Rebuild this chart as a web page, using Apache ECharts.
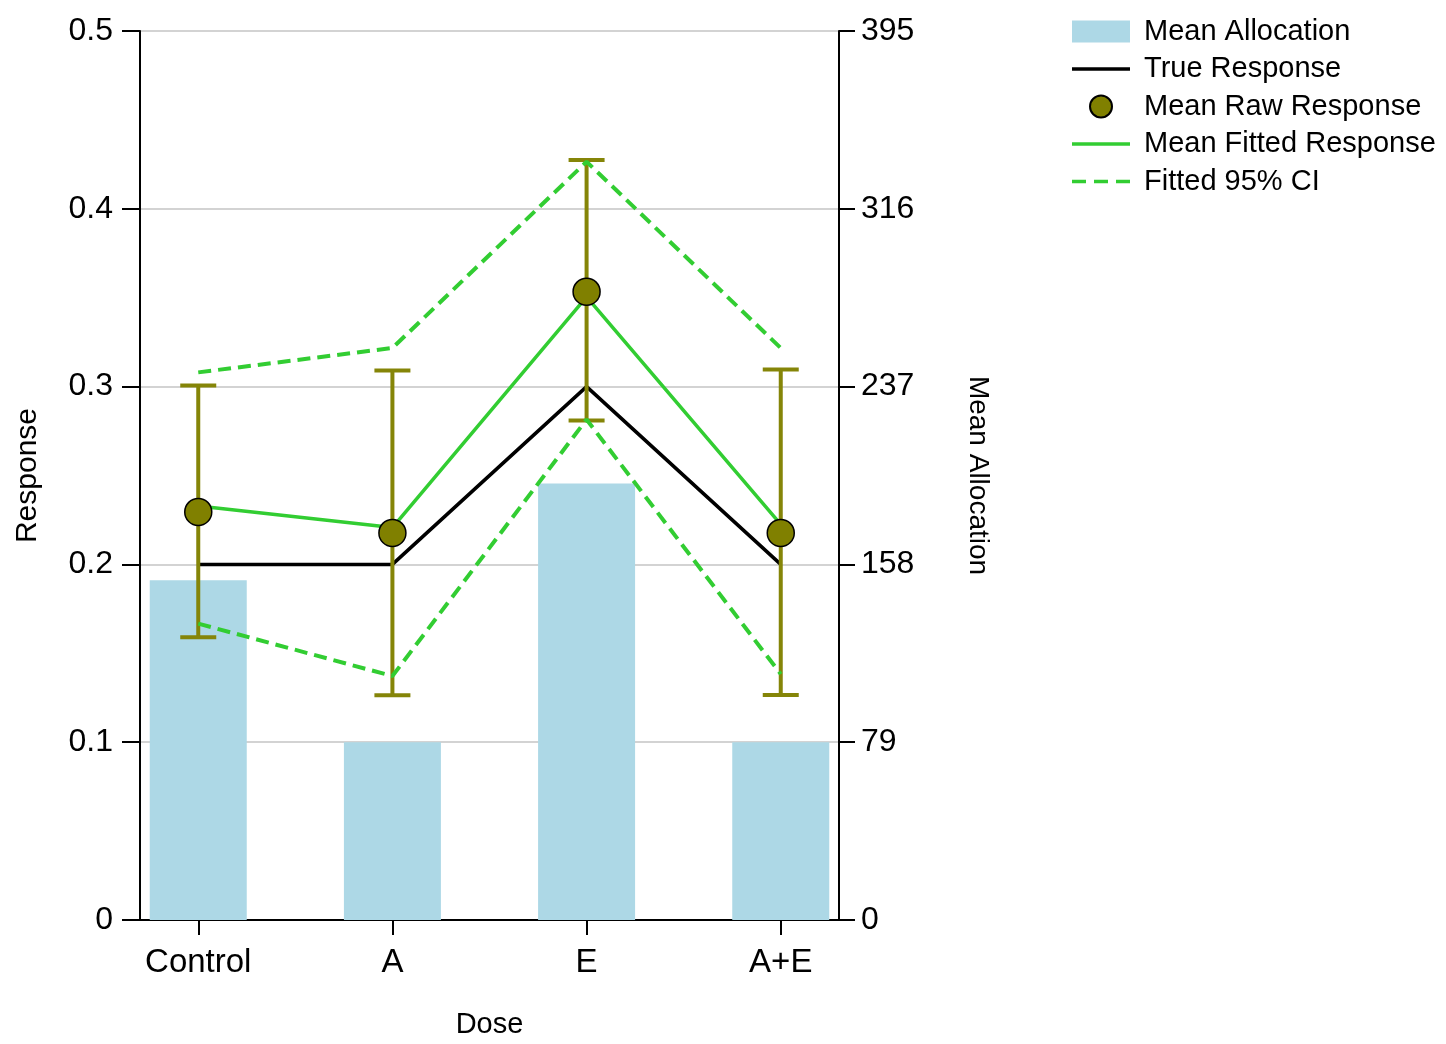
<!DOCTYPE html>
<html><head><meta charset="utf-8">
<script src="https://cdn.jsdelivr.net/npm/echarts@6/dist/echarts.min.js"></script>
<style>html,body{margin:0;padding:0;background:#fff}#c{width:1446px;height:1044px}</style>
</head><body><div id="c"></div>
<script>
const categories = ['Control', 'A', 'E', 'A+E'];
const meanAllocation = [151, 79, 194, 79];
const trueResponse = [0.2, 0.2, 0.3, 0.2];
const meanRawResponse = [0.2295, 0.2177, 0.3534, 0.2177];
const rawLow = [0.159, 0.1264, 0.281, 0.1266];
const rawHigh = [0.3006, 0.309, 0.4274, 0.3096];
const meanFitted = [0.2328, 0.2207, 0.3505, 0.2225];
const ciUpper = [0.308, 0.3217, 0.4265, 0.3217];
const ciLower = [0.1667, 0.1372, 0.2815, 0.1383];
const leftTicks = [0, 0.1, 0.2, 0.3, 0.4, 0.5];
const rightTicks = [0, 79, 158, 237, 316, 395];

const pos = categories.map((c, i) => i + 1);
const pair = arr => arr.map((v, i) => [pos[i], v]);
const FONT = "'Liberation Sans', Arial, sans-serif";
const SOLID_ICON = 'path://M0,0 L58,0 L58,3.5 L0,3.5 Z';
const DASH_ICON = 'path://M0,0 L14,0 L14,3.5 L0,3.5 Z M22,0 L36,0 L36,3.5 L22,3.5 Z M44,0 L58,0 L58,3.5 L44,3.5 Z';

const chart = echarts.init(document.getElementById('c'), null, {renderer: 'canvas'});
chart.setOption({
  animation: false,
  backgroundColor: '#fff',
  textStyle: {fontFamily: FONT, color: '#000'},
  grid: {left: 140, right: 607, top: 31, bottom: 118, containLabel: false},
  legend: {
    orient: 'vertical', left: 1067, top: 12,
    itemWidth: 58, itemHeight: 22, itemGap: 8.5,
    textStyle: {fontFamily: FONT, fontSize: 29, color: '#000', padding: [0, 0, 0, 9]},
    data: [
      {name: 'Mean Allocation', icon: 'rect'},
      {name: 'True Response', icon: SOLID_ICON},
      {name: 'Mean Raw Response', icon: 'circle'},
      {name: 'Mean Fitted Response', icon: SOLID_ICON},
      {name: 'Fitted 95% CI', icon: DASH_ICON}
    ]
  },
  xAxis: {
    type: 'value', min: 0.7, max: 4.3,
    name: 'Dose', nameLocation: 'middle', nameGap: 90,
    nameTextStyle: {fontFamily: FONT, fontSize: 29, color: '#000'},
    axisLine: {show: true, onZero: false, lineStyle: {color: '#000', width: 2}},
    axisTick: {show: true, customValues: pos, length: 15, lineStyle: {color: '#000', width: 2}},
    axisLabel: {customValues: pos, margin: 26, fontSize: 33, color: '#000', fontFamily: FONT,
      formatter: v => categories[Math.round(v) - 1] || ''},
    splitLine: {show: false}
  },
  yAxis: [
    {
      type: 'value', min: 0, max: 0.5, interval: 0.1, position: 'left',
      name: 'Response', nameLocation: 'middle', nameGap: 97,
      nameTextStyle: {fontFamily: FONT, fontSize: 30, color: '#000'},
      axisLine: {show: true, lineStyle: {color: '#000', width: 2}},
      axisTick: {show: true, length: 18, lineStyle: {color: '#000', width: 2}},
      axisLabel: {margin: 27, fontSize: 32, color: '#000', fontFamily: FONT,
        customValues: leftTicks, formatter: v => String(+v.toFixed(1))},
      splitLine: {show: true, lineStyle: {color: '#d3d3d3', width: 2}}
    },
    {
      type: 'value', min: 0, max: 395, interval: 79, position: 'right',
      name: 'Mean Allocation', nameLocation: 'middle', nameGap: 125, nameRotate: -90,
      nameTextStyle: {fontFamily: FONT, fontSize: 28, color: '#000'},
      axisLine: {show: true, lineStyle: {color: '#000', width: 2}},
      axisTick: {show: true, length: 16, lineStyle: {color: '#000', width: 2}},
      axisLabel: {margin: 22, fontSize: 32, color: '#000', fontFamily: FONT,
        customValues: rightTicks, formatter: v => String(v)},
      splitLine: {show: false}
    }
  ],
  series: [
    {
      name: 'Mean Allocation', type: 'bar', yAxisIndex: 1, barWidth: 97,
      data: pair(meanAllocation), itemStyle: {color: '#add8e6'}, z: 1
    },
    {
      name: 'True Response', type: 'line', data: pair(trueResponse),
      symbol: 'none', lineStyle: {color: '#000', width: 3.5}, itemStyle: {color: '#000'}, z: 2
    },
    {
      name: 'Raw Error', type: 'custom', z: 3,
      data: pos.map((p, i) => [p, rawLow[i], rawHigh[i]]),
      renderItem: (params, api) => {
        const x = api.value(0);
        const a = api.coord([x, api.value(1)]);
        const b = api.coord([x, api.value(2)]);
        const hw = 18;
        const st = {stroke: '#858508', lineWidth: 4};
        return {type: 'group', children: [
          {type: 'line', shape: {x1: a[0], y1: a[1], x2: b[0], y2: b[1]}, style: st},
          {type: 'line', shape: {x1: a[0] - hw, y1: a[1], x2: a[0] + hw, y2: a[1]}, style: st},
          {type: 'line', shape: {x1: b[0] - hw, y1: b[1], x2: b[0] + hw, y2: b[1]}, style: st}
        ]};
      }
    },
    {
      name: 'Mean Fitted Response', type: 'line', data: pair(meanFitted),
      symbol: 'none', lineStyle: {color: '#32cd32', width: 3.5}, itemStyle: {color: '#32cd32'}, z: 4
    },
    {
      name: 'Fitted 95% CI', type: 'line', data: pair(ciUpper),
      symbol: 'none', lineStyle: {color: '#32cd32', width: 4, type: [13, 7]}, itemStyle: {color: '#32cd32'}, z: 4
    },
    {
      name: 'Fitted 95% CI', type: 'line', data: pair(ciLower),
      symbol: 'none', lineStyle: {color: '#32cd32', width: 4, type: [13, 7]}, itemStyle: {color: '#32cd32'}, z: 4
    },
    {
      name: 'Mean Raw Response', type: 'scatter', data: pair(meanRawResponse),
      symbol: 'circle', symbolSize: 27,
      itemStyle: {color: '#808000', borderColor: '#000', borderWidth: 1.5, opacity: 1}, z: 5
    }
  ]
});
</script></body></html>
